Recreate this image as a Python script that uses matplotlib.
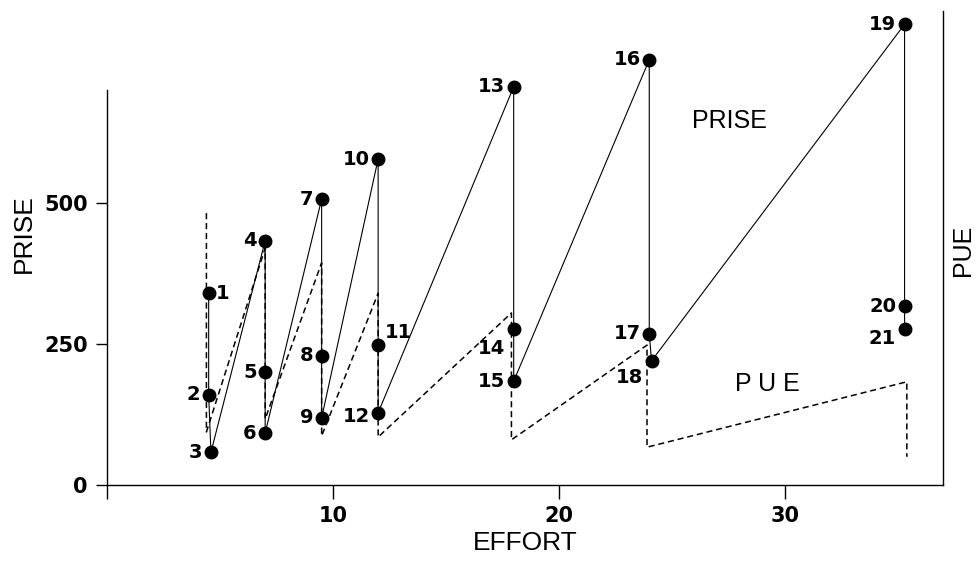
import matplotlib
matplotlib.use("Agg")
import matplotlib.pyplot as plt

# catch (PRISE) against effort, 21 numbered observations
effort = [4.5, 4.5, 4.6, 7.0, 7.0, 7.0, 9.5, 9.5, 9.5, 12.0, 12.0, 12.0,
          18.0, 18.0, 18.0, 24.0, 24.0, 24.1, 35.3, 35.3, 35.3]
prise = [340, 160, 58, 433, 200, 92, 507, 229, 119, 578, 248, 128,
         706, 277, 184, 754, 268, 220, 817, 317, 277]
labels = [str(i) for i in range(1, 22)]

# catch per unit effort (PUE), start and end of each fishing period
pue_effort = [4.4, 4.4, 7.0, 7.0, 9.5, 9.5, 12.0, 12.0,
              17.9, 17.9, 23.9, 23.9, 35.4, 35.4]
pue = [482, 94, 420, 117, 394, 87, 340, 85, 305, 80, 248, 67, 183, 50]

# label placement: side and offset in points
label_side = ['r'] + ['l'] * 9 + ['r'] + ['l'] * 10
label_dy = {11: 9, 12: -3, 14: -14, 18: -12, 21: -7}

num_font = {'family': 'DejaVu Sans', 'weight': 'bold', 'size': 14}
txt_font = {'family': 'Liberation Sans', 'size': 19}

fig = plt.figure(figsize=(9.78, 5.61), dpi=100)
ax = fig.add_axes([0.1094, 0.1355, 0.8548, 0.8545])

ax.plot(effort, prise, color='black', lw=0.8, marker='o', ms=9,
        mfc='black', mec='black', zorder=3)

ax2 = ax.twinx()
ax2.plot(pue_effort, pue, color='black', lw=1.1, dashes=(4, 2.5))
ax2.set_ylim(0, 850)
ax2.set_yticks([])
for s in ax2.spines.values():
    s.set_visible(False)

for i, (x, y, lab) in enumerate(zip(effort, prise, labels)):
    n = i + 1
    dy = label_dy.get(n, 0)
    if label_side[i] == 'r':
        ax.annotate(lab, (x, y), xytext=(5, dy), textcoords='offset points',
                    ha='left', va='center', **num_font)
    else:
        ax.annotate(lab, (x, y), xytext=(-6, dy), textcoords='offset points',
                    ha='right', va='center', **num_font)

ax.set_xlim(0, 37)
ax.set_ylim(0, 850)
ax.spines['top'].set_visible(False)
ax.spines['left'].set_bounds(0, 700)
ax.spines['right'].set_bounds(0, 840)
for s in ax.spines.values():
    s.set_linewidth(1.0)

ax.set_xticks([0, 10, 20, 30])
ax.set_xticklabels(['', '10', '20', '30'])
ax.set_yticks([0, 250, 500])
ax.tick_params(axis='x', direction='out', length=10, width=1, pad=5)
ax.tick_params(axis='y', direction='out', length=8, width=1, pad=6)
for t in ax.get_xticklabels() + ax.get_yticklabels():
    t.set_fontfamily('DejaVu Sans')
    t.set_fontweight('bold')
    t.set_fontsize(15)

ax.set_xlabel('EFFORT', labelpad=4, **txt_font)
ax.text(-0.1, 0.525, 'PRISE', transform=ax.transAxes, rotation=90,
        ha='center', va='center', **txt_font)
ax.text(1.024, 0.49, 'PUE', transform=ax.transAxes, rotation=90,
        ha='center', va='center', family='Liberation Sans', size=18)

ax.text(0.745, 0.76, 'PRISE', transform=ax.transAxes, ha='center',
        va='center', family='Liberation Sans', size=18)
ax.text(0.79, 0.21, 'P U E', transform=ax.transAxes, ha='center',
        va='center', family='Liberation Sans', size=18)

fig.savefig('out.png', dpi=100, facecolor='white')
